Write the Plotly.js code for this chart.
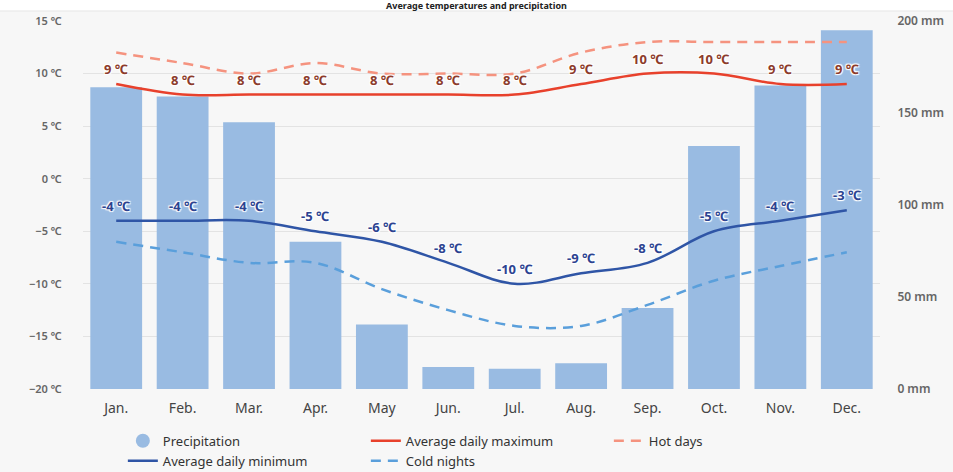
<!DOCTYPE html>
<html>
<head>
<meta charset="utf-8">
<script src="https://cdn.plot.ly/plotly-3.0.1.min.js"></script>
<style>
  html, body { margin: 0; padding: 0; background: #ffffff; }
  #chart { width: 953px; height: 472px; }
</style>
</head>
<body>
<div id="chart"></div>
<script>
const months = ["Jan.", "Feb.", "Mar.", "Apr.", "May", "Jun.", "Jul.", "Aug.", "Sep.", "Oct.", "Nov.", "Dec."];
const precipitation = [164, 159, 145, 80, 35, 12, 11, 14, 44, 132, 165, 195];
const avgMax = [9, 8, 8, 8, 8, 8, 8, 9, 10, 10, 9, 9];
const hotDays = [12, 11, 10, 11, 10, 10, 10, 12, 13, 13, 13, 13];
const avgMin = [-4, -4, -4, -5, -6, -8, -10, -9, -8, -5, -4, -3];
const coldNights = [-6, -7, -8, -8, -10.5, -12.5, -14, -14, -12, -9.7, -8.3, -7];
const titleText = "Average temperatures and precipitation";

const FONT = "Noto Sans, Open Sans, DejaVu Sans, sans-serif";
const HALO = "1px 1px 1px #fff, -1px -1px 1px #fff, 1px -1px 1px #fff, -1px 1px 1px #fff";

const traces = [
  {
    type: "bar", x: months, y: precipitation, yaxis: "y",
    marker: {color: "#99bbe2"}, showlegend: false, hoverinfo: "skip"
  },
  {
    type: "scatter", mode: "markers", x: [null], y: [null], yaxis: "y",
    name: "Precipitation", legendrank: 1,
    marker: {symbol: "circle", size: 14, color: "#99bbe2"}
  },
  {
    type: "scatter", mode: "lines", x: months, y: hotDays, yaxis: "y2",
    name: "Hot days", legendrank: 3,
    line: {color: "#f5937f", width: 2.5, dash: "10px,7px", shape: "spline", smoothing: 1}
  },
  {
    type: "scatter", mode: "lines", x: months, y: coldNights, yaxis: "y2",
    name: "Cold nights", legendrank: 5,
    line: {color: "#5a9fdb", width: 2.5, dash: "10px,7px", shape: "spline", smoothing: 1}
  },
  {
    type: "scatter", mode: "lines", x: months, y: avgMax, yaxis: "y2",
    name: "Average daily maximum", legendrank: 2,
    line: {color: "#e8412c", width: 2.5, shape: "spline", smoothing: 1}
  },
  {
    type: "scatter", mode: "lines", x: months, y: avgMin, yaxis: "y2",
    name: "Average daily minimum", legendrank: 4,
    line: {color: "#2f55a6", width: 2.5, shape: "spline", smoothing: 1}
  }
];

const annotations = [];
months.forEach((m, i) => {
  annotations.push({
    x: m, y: avgMax[i], xref: "x", yref: "y2", yshift: 15,
    text: avgMax[i] + " ℃", showarrow: false,
    font: {family: FONT, size: 13, color: "#8c3b2b", weight: 700, shadow: HALO}
  });
  annotations.push({
    x: m, y: avgMin[i], xref: "x", yref: "y2", yshift: 15,
    text: avgMin[i] + " ℃", showarrow: false,
    font: {family: FONT, size: 13, color: "#2c4391", weight: 700, shadow: HALO}
  });
});

const layout = {
  width: 953, height: 472,
  margin: {l: 83, r: 73, t: 21, b: 83, pad: 0, autoexpand: false},
  paper_bgcolor: "#ffffff",
  plot_bgcolor: "#f7f7f7",
  font: {family: FONT, color: "#444"},
  title: {
    text: titleText, xref: "container", x: 0.5, xanchor: "center",
    yref: "container", y: 0.987, yanchor: "middle",
    font: {family: FONT, size: 9, weight: 700, color: "#222"}
  },
  bargap: 0.22,
  xaxis: {
    type: "category", range: [-0.5, 11.5],
    showgrid: false, zeroline: false, showline: false,
    ticks: "outside", ticklen: 6, tickcolor: "rgba(0,0,0,0)",
    tickfont: {family: FONT, size: 14, color: "#444"}
  },
  yaxis: {
    side: "right", range: [0, 200], dtick: 50, ticksuffix: " mm",
    showgrid: false, zeroline: false, showline: false,
    ticks: "outside", ticklen: 14, tickcolor: "rgba(0,0,0,0)",
    tickfont: {family: FONT, size: 12, color: "#666", weight: 600}
  },
  yaxis2: {
    overlaying: "y", side: "left", range: [-20, 15], dtick: 5, ticksuffix: " ℃",
    showgrid: true, gridcolor: "#e3e3e3", gridwidth: 1,
    zeroline: false, showline: false,
    ticks: "outside", ticklen: 18, tickcolor: "rgba(0,0,0,0)",
    tickfont: {family: FONT, size: 11, color: "#666", weight: 600}
  },
  shapes: [{
    type: "rect", xref: "paper", yref: "paper", layer: "below",
    x0: -0.2, x1: 1.2, y0: -0.4, y1: 1.0272,
    fillcolor: "#f7f7f7", line: {color: "#e6e6e6", width: 1}
  }],
  legend: {
    orientation: "h", x: 0.05, xanchor: "left", y: -0.1, yanchor: "top",
    entrywidth: 198, entrywidthmode: "pixels",
    bgcolor: "rgba(0,0,0,0)", tracegroupgap: 0, itemwidth: 30,
    font: {family: FONT, size: 13, color: "#333"}
  },
  annotations: annotations,
  hovermode: false
};

Plotly.newPlot("chart", traces, layout, {displayModeBar: false, staticPlot: true});
</script>
</body>
</html>
